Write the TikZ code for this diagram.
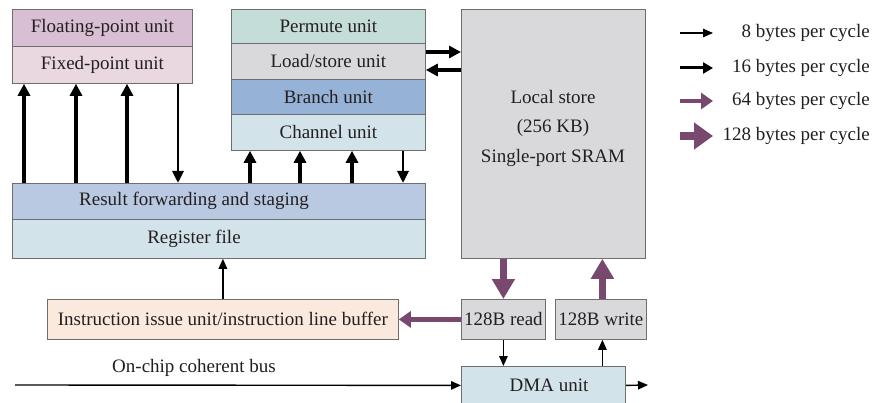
\documentclass[tikz,border=0pt]{standalone}
\usepackage{fontspec}
\setmainfont{Liberation Serif}
\usetikzlibrary{arrows.meta}
\definecolor{boxline}{RGB}{110,110,112}
\definecolor{txt}{RGB}{35,31,32}
\definecolor{cfp}{RGB}{217,191,211}
\definecolor{cfx}{RGB}{234,216,225}
\definecolor{cpm}{RGB}{197,221,216}
\definecolor{cgray}{RGB}{217,217,219}
\definecolor{cbr}{RGB}{150,179,215}
\definecolor{clight}{RGB}{211,227,234}
\definecolor{crf}{RGB}{185,201,225}
\definecolor{cib}{RGB}{252,233,222}
\definecolor{cpur}{RGB}{121,72,111}
\newcommand{\fs}{\fontsize{19}{22}\selectfont}
\tikzset{
  box/.style={draw=boxline, line width=0.8pt, inner sep=0pt, anchor=north west, font=\fs, text=txt},
  lbl/.style={inner sep=0pt, font=\fs, text=txt},
  a8/.style={draw=black, line width=1.4pt, -{Triangle[length=10pt,width=8.5pt]}},
  adn/.style={draw=black, line width=2.9pt, -{Triangle[length=12pt,width=11pt]}},
  a16/.style={draw=black, line width=3.3pt, -{Triangle[length=12pt,width=12pt]}},
  a64/.style={draw=cpur, line width=4.8pt, -{Triangle[length=12pt,width=16pt]}},
  a128/.style={draw=cpur, line width=7.5pt, -{Triangle[length=20pt,width=22pt]}}
}
\begin{document}
\begin{tikzpicture}[x=1pt,y=-1pt]
\clip (0,0) rectangle (872,403);
\useasboundingbox (0,0) rectangle (872,403);
\fill[white] (0,0) rectangle (872,403);
% units
\node[box, fill=cfp, minimum width=180pt, minimum height=37pt] (fp) at (12,9) {Floating-point unit};
\node[box, fill=cfx, minimum width=180pt, minimum height=37pt] (fx) at (12,46) {Fixed-point unit};
\node[box, fill=cpm, minimum width=194pt, minimum height=34pt] (pm) at (231,9) {Permute unit};
\node[box, fill=cgray, minimum width=194pt, minimum height=36pt] (ls) at (231,43) {Load/store unit};
\node[box, fill=cbr, minimum width=194pt, minimum height=35pt] (br) at (231,79) {Branch unit};
\node[box, fill=clight, minimum width=194pt, minimum height=36pt] (ch) at (231,114) {Channel unit};
\node[box, fill=crf, minimum width=413pt, minimum height=36pt] (rf) at (12,183) {};
\node[box, fill=clight, minimum width=413pt, minimum height=39pt] (rg) at (12,219) {};
\node[lbl] (rft) at (194,201) {Result forwarding and staging};
\node[lbl] (rgt) at (194,238.5) {Register file};
\node[box, fill=cgray, minimum width=184pt, minimum height=249pt] (lsm) at (461,9) {};
\node[lbl, align=center, font=\fontsize{19}{29.5}\selectfont] (lsmt) at (553,128) {Local store\\(256 KB)\\Single-port SRAM};
\node[box, fill=cib, minimum width=351pt, minimum height=40pt] (ib) at (47,299) {Instruction issue unit/instruction line buffer};
\node[box, fill=cgray, minimum width=84pt, minimum height=40pt] (rd) at (461,299) {128B read};
\node[box, fill=cgray, minimum width=91pt, minimum height=40pt] (wr) at (555,299) {128B write};
\node[box, fill=clight, minimum width=164pt, minimum height=38pt] (dma) at (461,366) {};
\node[lbl] (dmat) at (549,385) {DMA unit};
\node[lbl] (bust) at (194,368) {On-chip coherent bus};
% column coordinates
\coordinate (c1) at (24,0);
\coordinate (c2) at (76,0);
\coordinate (c3) at (127,0);
\coordinate (c4) at (178,0);
\coordinate (c5) at (250,0);
\coordinate (c6) at (300,0);
\coordinate (c7) at (352,0);
\coordinate (c8) at (403,0);
\coordinate (r1) at (0,52);
\coordinate (r2) at (0,70);
\coordinate (bus) at (15,385);
\coordinate (dmaout) at (648,385);
% connectors
\draw[a16] (rf.north -| c1) -- (fx.south -| c1);
\draw[a16] (rf.north -| c2) -- (fx.south -| c2);
\draw[a16] (rf.north -| c3) -- (fx.south -| c3);
\draw[adn] (fx.south -| c4) -- (rf.north -| c4);
\draw[a16] (rf.north -| c5) -- (ch.south -| c5);
\draw[a16] (rf.north -| c6) -- (ch.south -| c6);
\draw[a16] (rf.north -| c7) -- (ch.south -| c7);
\draw[adn] (ch.south -| c8) -- (rf.north -| c8);
\draw[a16] (ls.east |- r1) -- (lsm.west |- r1);
\draw[a16] (lsm.west |- r2) -- (ls.east |- r2);
\draw[a8] (ib.north) -- (ib.north |- rg.south);
\draw[a128] (rd.north |- lsm.south) -- (rd.north);
\draw[a128] ([xshift=1.5pt]wr.north) -- ([xshift=1.5pt]wr.north |- lsm.south);
\draw[a64] (rd.west) -- (ib.east);
\draw[a8] (rd.south) -- (rd.south |- dma.north);
\draw[a8] ([xshift=1.5pt]wr.south |- dma.north) -- ([xshift=1.5pt]wr.south);
\draw[a8] (bus) -- (dma.west);
\draw[a8] (dma.east) -- (dmaout);
% legend
\coordinate (l1a) at (680,33); \coordinate (l1b) at (713,33);
\coordinate (l2a) at (680,68); \coordinate (l2b) at (713,68);
\coordinate (l3a) at (680,101); \coordinate (l3b) at (713,101);
\coordinate (l4a) at (680,136); \coordinate (l4b) at (713,136);
\draw[a8] (l1a) -- (l1b);
\draw[draw=black, line width=3pt, -{Triangle[length=10pt,width=11pt]}] (l2a) -- (l2b);
\draw[a64] (l3a) -- (l3b);
\draw[draw=cpur, line width=8pt, -{Triangle[length=19pt,width=26pt]}] (l4a) -- (l4b);
\node[lbl, anchor=east] (t1) at (870,33) {8 bytes per cycle};
\node[lbl, anchor=east] (t2) at (870,68) {16 bytes per cycle};
\node[lbl, anchor=east] (t3) at (870,101) {64 bytes per cycle};
\node[lbl, anchor=east] (t4) at (870,136) {128 bytes per cycle};
\end{tikzpicture}
\end{document}
